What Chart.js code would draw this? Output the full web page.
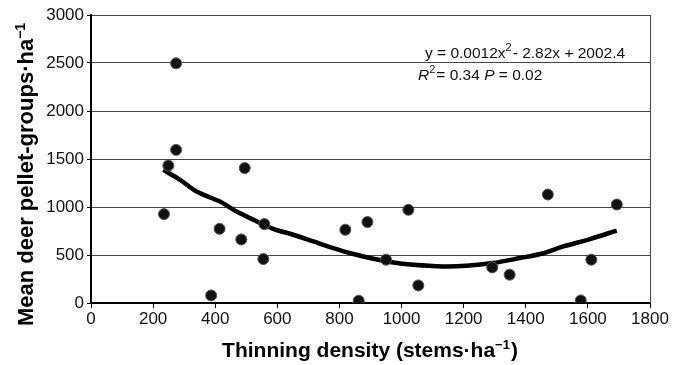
<!DOCTYPE html>
<html>
<head>
<meta charset="utf-8">
<script src="https://cdn.jsdelivr.net/npm/chart.js@4"></script>
<style>
  html, body { margin: 0; padding: 0; background: #fff; }
  canvas { display: block; }
</style>
</head>
<body>
<canvas id="chart" width="674" height="365"></canvas>
<script>
// observed plots: thinning density vs pellet groups
const densityX = [235, 249, 274, 274, 387, 414, 484, 495, 555, 558, 819, 862, 890, 950, 1022, 1054, 1292, 1348, 1471, 1577, 1611, 1693];
const pelletY = [926, 1432, 2497, 1595, 79, 773, 662, 1405, 458, 822, 763, 24, 843, 451, 971, 183, 371, 295, 1130, 27, 451, 1026];

// fitted curve
const fitX = [233, 287, 340, 415, 469, 523, 587, 651, 716, 780, 845, 909, 963, 1038, 1134, 1209, 1294, 1381, 1446, 1521, 1607, 1693];
const fitY = [1387, 1283, 1161, 1057, 953, 867, 773, 711, 641, 572, 510, 461, 427, 398, 381, 388, 416, 468, 510, 589, 666, 755];

const xTicks = [0, 200, 400, 600, 800, 1000, 1200, 1400, 1600, 1800];
const yTicks = [0, 500, 1000, 1500, 2000, 2500, 3000];

const FONT = '"Liberation Sans", Arial, sans-serif';

// text runs with raised superscripts
function runWidth(ctx, pieces, base, supSize, bold) {
  let w = 0;
  pieces.forEach(p => {
    ctx.font = (bold ? 'bold ' : '') + (p.italic ? 'italic ' : '') + (p.sup ? supSize : base) + 'px ' + FONT;
    w += ctx.measureText(p.t).width + (p.sup ? 1 : 0);
  });
  return w;
}
function drawRun(ctx, pieces, x, y, base, supSize, rise, bold) {
  pieces.forEach(p => {
    ctx.font = (bold ? 'bold ' : '') + (p.italic ? 'italic ' : '') + (p.sup ? supSize : base) + 'px ' + FONT;
    ctx.fillText(p.t, x, p.sup ? y - rise : y);
    x += ctx.measureText(p.t).width + (p.sup ? 1 : 0);
  });
}

const xTitle = [{ t: 'Thinning density (stems·ha' }, { t: '−1', sup: true }, { t: ')' }];
const yTitle = [{ t: 'Mean deer pellet-groups·ha' }, { t: '−1', sup: true }];

const extras = {
  id: 'extras',
  afterDraw(chart) {
    const ctx = chart.ctx;
    const a = chart.chartArea;
    ctx.save();
    // right frame line
    ctx.strokeStyle = '#444';
    ctx.lineWidth = 1;
    ctx.beginPath();
    ctx.moveTo(a.right + 0.5, a.top);
    ctx.lineTo(a.right + 0.5, a.bottom);
    ctx.stroke();

    ctx.fillStyle = '#111';
    ctx.textBaseline = 'alphabetic';
    drawRun(ctx, [
      { t: 'y = 0.0012x' }, { t: '2', sup: true }, { t: '- 2.82x + 2002.4' }
    ], 425, 58, 15.5, 11, 7, false);
    drawRun(ctx, [
      { t: 'R', italic: true }, { t: '2', sup: true }, { t: '= 0.34 ' },
      { t: 'P', italic: true }, { t: ' = 0.02' }
    ], 418, 80, 15.5, 11, 7, false);

    // axis titles
    ctx.fillStyle = '#000';
    const wx = runWidth(ctx, xTitle, 21, 13, true);
    drawRun(ctx, xTitle, 370 - wx / 2, 357, 21, 13, 8, true);

    ctx.translate(33, 174);
    ctx.rotate(-Math.PI / 2);
    const wy = runWidth(ctx, yTitle, 22, 14, true);
    drawRun(ctx, yTitle, -wy / 2, 0, 22, 14, 8, true);
    ctx.restore();
  }
};

new Chart(document.getElementById('chart'), {
  type: 'scatter',
  data: {
    datasets: [
      {
        label: 'Fit',
        data: fitX.map((x, i) => ({ x: x, y: fitY[i] })),
        showLine: true,
        borderColor: '#000',
        borderWidth: 4.5,
        pointRadius: 0,
        tension: 0.3,
        order: 2
      },
      {
        label: 'Plots',
        data: densityX.map((x, i) => ({ x: x, y: pelletY[i] })),
        backgroundColor: '#111',
        borderColor: '#555',
        borderWidth: 1,
        pointRadius: 5.5,
        order: 1
      }
    ]
  },
  options: {
    responsive: false,
    animation: false,
    layout: { padding: { top: 15, right: 24, left: 0, bottom: 0 } },
    plugins: {
      legend: { display: false },
      tooltip: { enabled: false }
    },
    scales: {
      x: {
        type: 'linear',
        min: 0,
        max: 1800,
        afterBuildTicks: (s) => { s.ticks = xTicks.map(v => ({ value: v })); },
        afterFit: (s) => { s.height = 62; },
        grid: { drawOnChartArea: false, drawTicks: true, tickLength: 5, color: '#000' },
        border: { color: '#000', width: 2 },
        ticks: {
          color: '#111', font: { family: FONT, size: 17 }, padding: 1, maxRotation: 0,
          callback: (v) => String(v)
        }
      },
      y: {
        min: 0,
        max: 3000,
        afterBuildTicks: (s) => { s.ticks = yTicks.map(v => ({ value: v })); },
        afterFit: (s) => { s.width = 91; },
        grid: { color: '#444', lineWidth: 1, drawTicks: true, tickLength: 4, tickColor: '#000' },
        border: { color: '#000', width: 2 },
        ticks: {
          color: '#111', font: { family: FONT, size: 17 }, padding: 3,
          callback: (v) => String(v)
        }
      }
    }
  },
  plugins: [extras]
});
</script>
</body>
</html>
